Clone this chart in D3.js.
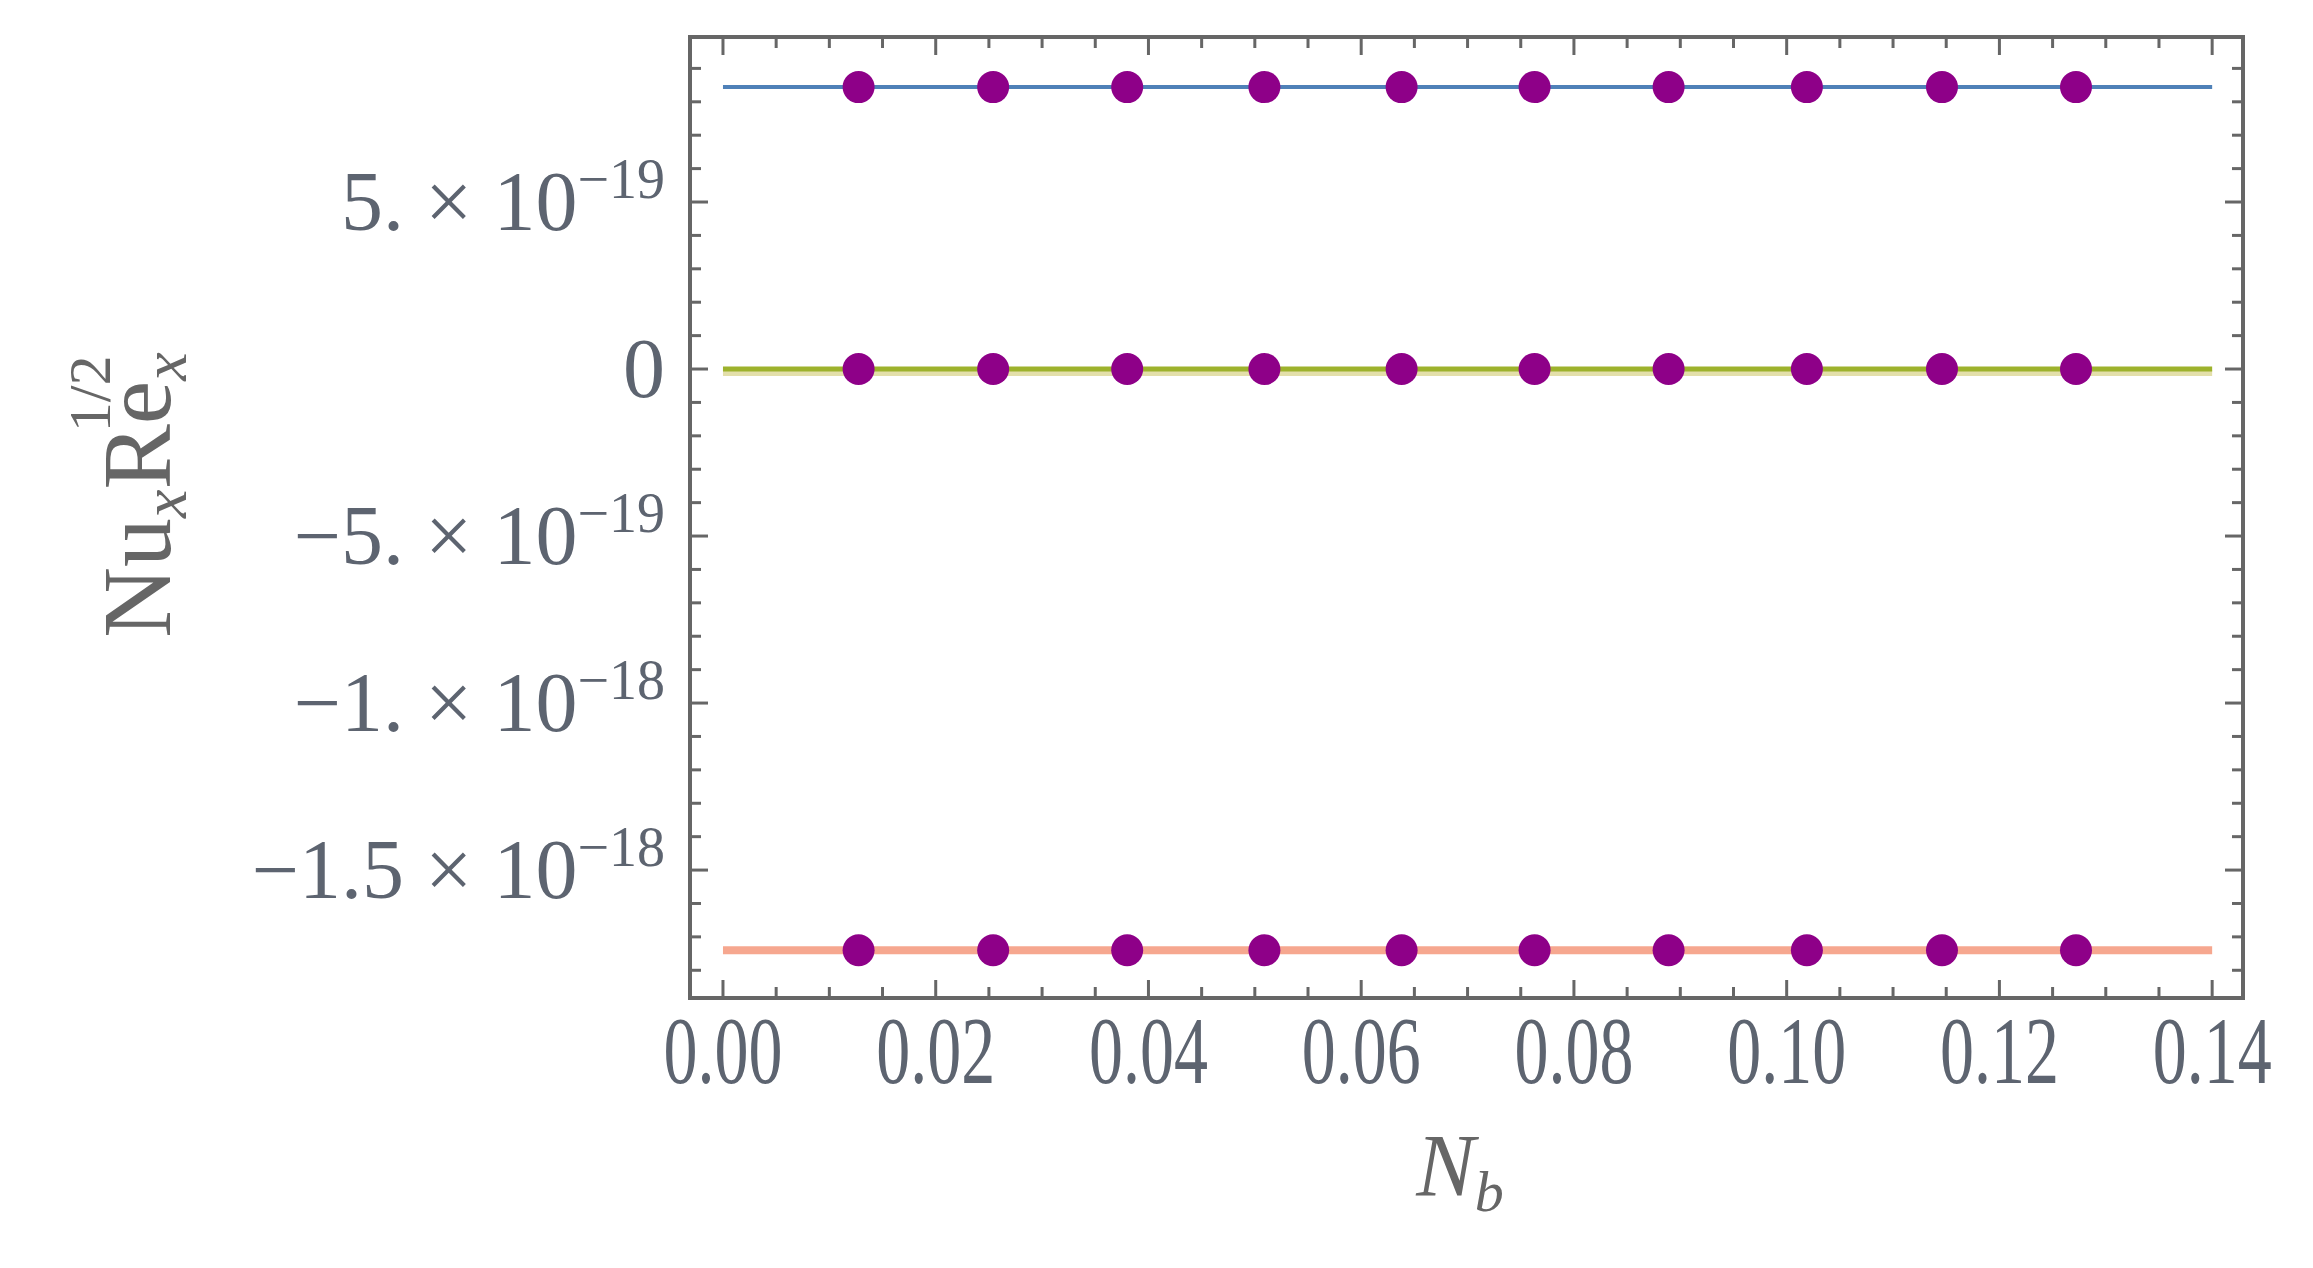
<!DOCTYPE html>
<html><head><meta charset="utf-8">
<script src="https://cdn.jsdelivr.net/npm/d3@7"></script>
<style>body{margin:0;background:#fff}</style></head>
<body><svg id="c" width="2313" height="1268"></svg>
<script>
const nbValues = [0.01275, 0.0254, 0.0380, 0.0509, 0.0638, 0.0763, 0.0889, 0.1019, 0.1146, 0.1272];
const seriesLevels = [8.44e-19, 0, -1.74e-18];
const seriesColors = ["#4f81b8", "#9db22c", "#f6a78f"];
const seriesWidths = [4, 5, 8];
const xTicks = [0, 0.02, 0.04, 0.06, 0.08, 0.10, 0.12, 0.14];
const yTicks = [5e-19, 0, -5e-19, -1e-18, -1.5e-18];
const yTickLabels = [["5.","19",""], ["0",null,""], ["5.","19","−"], ["1.","18","−"], ["1.5","18","−"]];

const svg = d3.select("#c");
const L=690,R=2243,T=37,B=998;
const x = d3.scaleLinear().domain([-0.0031,0.1429]).range([L,R]);
const y = d3.scaleLinear().domain([-1.883e-18,9.94e-19]).range([B,T]);
const frame="#666";

const xMinor = d3.range(0,0.1401,0.005);
const yMinor = d3.range(-18,10).map(k=>k*1e-19);
const g = svg.append("g");
xMinor.forEach(v=>{
  const major = Math.abs(Math.round(v/0.02)*0.02 - v) < 1e-9;
  const len = major?18:11;
  g.append("line").attr("x1",x(v)).attr("x2",x(v)).attr("y1",B).attr("y2",B-len).attr("stroke",frame).attr("stroke-width",3);
  g.append("line").attr("x1",x(v)).attr("x2",x(v)).attr("y1",T).attr("y2",T+len).attr("stroke",frame).attr("stroke-width",3);
});
yMinor.forEach(v=>{
  const k=Math.round(v/1e-19); const major = k%5===0;
  const len = major?18:11;
  g.append("line").attr("x1",L).attr("x2",L+len).attr("y1",y(v)).attr("y2",y(v)).attr("stroke",frame).attr("stroke-width",3);
  g.append("line").attr("x1",R).attr("x2",R-len).attr("y1",y(v)).attr("y2",y(v)).attr("stroke",frame).attr("stroke-width",3);
});

seriesLevels.forEach((lv,i)=>{
  if(i===1) svg.append("line").attr("x1",x(0)).attr("x2",x(0.14)).attr("y1",y(lv)+4).attr("y2",y(lv)+4).attr("stroke","#e3dfaa").attr("stroke-width",6);
  svg.append("line").attr("x1",x(0)).attr("x2",x(0.14)).attr("y1",y(lv)).attr("y2",y(lv)).attr("stroke",seriesColors[i]).attr("stroke-width",seriesWidths[i]);
  svg.selectAll(null).data(nbValues).enter().append("circle")
    .attr("cx",d=>x(d)).attr("cy",y(lv)).attr("r",16).attr("fill","#8e0088");
});

svg.append("rect").attr("x",L).attr("y",T).attr("width",R-L).attr("height",B-T).attr("fill","none").attr("stroke",frame).attr("stroke-width",4);

const font="Liberation Serif", tc="#5d6470";
svg.selectAll(null).data(xTicks).enter().append("text")
  .attr("x",d=>x(d)).attr("y",1083).attr("text-anchor","middle")
  .attr("font-family",font).attr("font-size",80).attr("fill",tc)
  .attr("transform",d=>`translate(${x(d)},1083) scale(0.85,1.2) translate(${-x(d)},-1083)`)
  .text(d=>d.toFixed(2));

yTicks.forEach((v,i)=>{
  const [m,e,s]=yTickLabels[i];
  const t=svg.append("text").attr("x",665).attr("y",y(v)+28).attr("text-anchor","end")
    .attr("font-family",font).attr("font-size",84).attr("fill",tc);
  if(e===null){t.text(m);return;}
  t.append("tspan").text(s+m+" × 10");
  t.append("tspan").attr("dy",-32).attr("font-size",56).text("−"+e);
});

const yl=svg.append("text").attr("transform","translate(170,495) rotate(-90)").attr("text-anchor","middle")
  .attr("font-family",font).attr("font-size",98).attr("fill","#666");
yl.append("tspan").text("Nu");
yl.append("tspan").attr("dy",16).attr("font-size",64).attr("font-style","italic").text("x");
yl.append("tspan").attr("dy",-16).text("Re");
yl.append("tspan").attr("dy",16).attr("font-size",64).attr("font-style","italic").text("x");
yl.append("tspan").attr("dy",-76).attr("dx",-80).attr("font-size",60).text("1/2");

const xl=svg.append("text").attr("x",1460).attr("y",1195).attr("text-anchor","middle")
  .attr("font-family",font).attr("font-size",88).attr("font-style","italic").attr("fill","#666");
xl.append("tspan").text("N");
xl.append("tspan").attr("dy",16).attr("font-size",58).text("b");
</script></body></html>
